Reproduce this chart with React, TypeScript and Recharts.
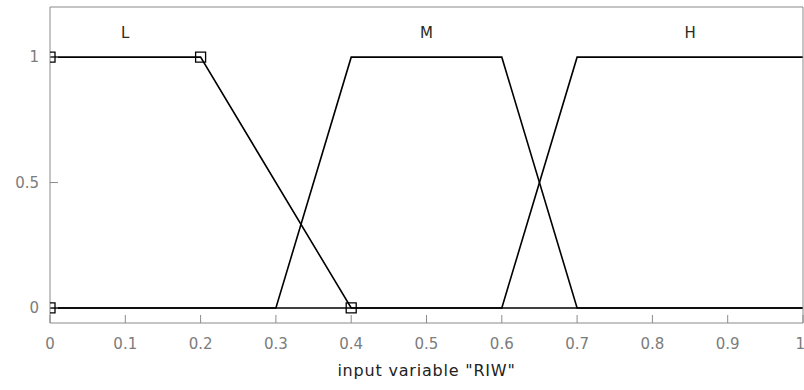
import { ComposedChart, Line, Scatter, XAxis, YAxis } from 'recharts';

// membership functions of input variable "RIW" (x, mu)
const lowMf = [
  { x: 0, y: 1 },
  { x: 0.2, y: 1 },
  { x: 0.4, y: 0 },
  { x: 1, y: 0 },
];
const midMf = [
  { x: 0, y: 0 },
  { x: 0.3, y: 0 },
  { x: 0.4, y: 1 },
  { x: 0.6, y: 1 },
  { x: 0.7, y: 0 },
  { x: 1, y: 0 },
];
const highMf = [
  { x: 0, y: 0 },
  { x: 0.6, y: 0 },
  { x: 0.7, y: 1 },
  { x: 1, y: 1 },
];
// square handles of the selected MF
const handles = [
  { x: 0, y: 1 },
  { x: 0.2, y: 1 },
  { x: 0.4, y: 0 },
  { x: 0, y: 0 },
];
const mfLabels = [
  { x: 0.1, y: 1.098, name: 'L' },
  { x: 0.5, y: 1.098, name: 'M' },
  { x: 0.85, y: 1.098, name: 'H' },
];
const xTicks = [0, 0.1, 0.2, 0.3, 0.4, 0.5, 0.6, 0.7, 0.8, 0.9, 1];
const yTicks = [0, 0.5, 1];

const AXIS = '#8a8a8a';
const FONT = '"DejaVu Sans", Verdana, sans-serif';

const emptyTick = () => <g />;

// handles sitting on the left edge are cut in half by the axes box
const HandleShape = (props: any) => {
  const { cx, cy, payload } = props;
  const left = payload.x <= 0 ? cx : cx - 5;
  return (
    <path
      d={`M${left},${cy - 5}H${cx + 5}V${cy + 5}H${left}${payload.x <= 0 ? '' : 'Z'}`}
      fill="none"
      stroke="#000"
      strokeWidth={1.3}
    />
  );
};

const NameShape = (props: any) => {
  const { cx, cy, payload } = props;
  return (
    <text x={cx} y={cy} textAnchor="middle" dominantBaseline="central" fontSize={15} fontFamily={FONT} fill="#2a2a1e">
      {payload.name}
    </text>
  );
};

export default function App() {
  return (
    <div style={{ position: 'absolute', left: 0, top: 0, width: 804, height: 390, overflow: 'hidden', background: '#fff' }}>
      <ComposedChart width={804} height={390} margin={{ top: 6, right: 0, bottom: 0, left: 0 }}>
        <XAxis
          dataKey="x"
          type="number"
          domain={[0, 1]}
          ticks={xTicks}
          height={67}
          stroke={AXIS}
          tickSize={-8}
          tickMargin={23}
          tick={{ fill: '#7c7c7c', fontSize: 15, fontFamily: FONT }}
          label={{
            value: 'input variable "RIW"',
            position: 'insideBottom',
            offset: 14,
            fill: '#222',
            fontSize: 16,
            fontFamily: FONT,
            letterSpacing: 0.8,
          }}
        />
        <XAxis
          xAxisId="top"
          orientation="top"
          type="number"
          domain={[0, 1]}
          ticks={xTicks}
          height={1}
          stroke={AXIS}
          tickSize={-8}
          tick={emptyTick}
        />
        <YAxis
          type="number"
          domain={[-0.06, 1.2]}
          ticks={yTicks}
          width={50}
          stroke={AXIS}
          tickSize={-8}
          tickMargin={19}
          tick={{ fill: '#7c7c7c', fontSize: 15, fontFamily: FONT }}
        />
        <YAxis
          yAxisId="right"
          orientation="right"
          type="number"
          domain={[-0.06, 1.2]}
          ticks={yTicks}
          width={1}
          stroke={AXIS}
          tickSize={-8}
          tick={emptyTick}
        />
        <Line data={lowMf} dataKey="y" type="linear" stroke="#000" strokeWidth={1.6} dot={false} isAnimationActive={false} />
        <Line data={midMf} dataKey="y" type="linear" stroke="#000" strokeWidth={1.6} dot={false} isAnimationActive={false} />
        <Line data={highMf} dataKey="y" type="linear" stroke="#000" strokeWidth={1.6} dot={false} isAnimationActive={false} />
        <Scatter data={handles} dataKey="y" shape={HandleShape} isAnimationActive={false} />
        <Scatter data={mfLabels} dataKey="y" shape={NameShape} isAnimationActive={false} />
      </ComposedChart>
    </div>
  );
}
